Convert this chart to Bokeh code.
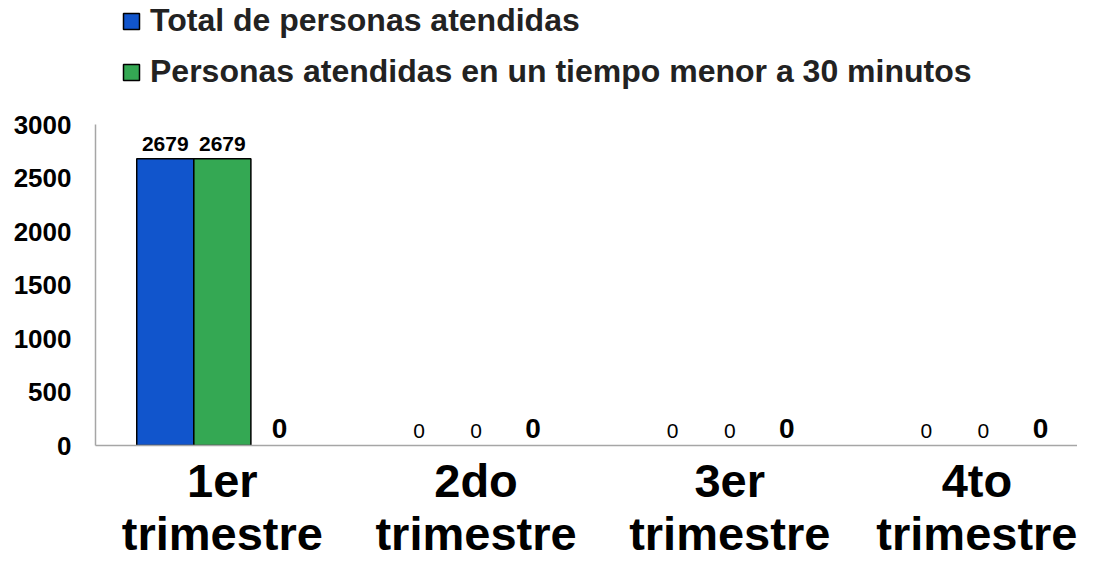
from bokeh.plotting import figure
from bokeh.models import ColumnDataSource, Range1d, FixedTicker, Legend, LegendItem
from bokeh.core.properties import value
from bokeh.embed import file_html
from bokeh.resources import INLINE

# ---- data ----
categories = ["1er trimestre", "2do trimestre", "3er trimestre", "4to trimestre"]
tick_labels = ["1er\ntrimestre", "2do\ntrimestre", "3er\ntrimestre", "4to\ntrimestre"]
total_atendidas = [2679, 0, 0, 0]
atendidas_menos_30 = [2679, 0, 0, 0]
tercera_serie = [0, 0, 0, 0]
series_names = ["Total de personas atendidas",
                "Personas atendidas en un tiempo menor a 30 minutos"]
y_ticks = [0, 500, 1000, 1500, 2000, 2500, 3000]
y_max = 3000

# ---- layout constants (pixels) ----
FONT = "Liberation Sans"
BLUE = "#1155CC"
GREEN = "#34A853"
AXIS = "#A6A6A6"
WIDTH, HEIGHT = 1077, 563
LEFT, BOTTOM = 95, 118
FRAME_H = HEIGHT - BOTTOM            # frame spans from canvas top to axis
AXIS_TOP_PX = 124                    # pixel row of y_max
CAT_PX = 253.7                       # pixels per category

y_top = y_max * FRAME_H / (FRAME_H - AXIS_TOP_PX)
x_end = (WIDTH - LEFT) / CAT_PX

idx = list(range(len(categories)))
centers = [i + 0.5 for i in idx]
W = 0.225
offsets = [-W, 0.0, W]

p = figure(width=WIDTH, height=HEIGHT, output_backend="svg", toolbar_location=None,
           x_range=Range1d(0, x_end), y_range=Range1d(0, y_top),
           min_border_left=LEFT, min_border_right=0, min_border_top=0,
           min_border_bottom=BOTTOM)
p.outline_line_color = None
p.xgrid.grid_line_color = None
p.ygrid.grid_line_color = None
p.background_fill_color = "white"

def bar_source(vals, off):
    return ColumnDataSource(dict(x=[c + off for c in centers], top=vals,
                                 la=[1.0 if v > 0 else 0.0 for v in vals]))

src1 = bar_source(total_atendidas, offsets[0])
src2 = bar_source(atendidas_menos_30, offsets[1])
r1 = p.vbar(x="x", top="top", width=W, bottom=0, source=src1,
            fill_color=BLUE, line_color="black", line_alpha="la", line_width=1.5)
r2 = p.vbar(x="x", top="top", width=W, bottom=0, source=src2,
            fill_color=GREEN, line_color="black", line_alpha="la", line_width=1.5)

# data labels
lx, ly, lt, lsz, lst, lyo = [], [], [], [], [], []
for vals, off in ((total_atendidas, offsets[0]), (atendidas_menos_30, offsets[1])):
    for c, v in zip(centers, vals):
        lx.append(c + off); ly.append(v); lt.append(str(v))
        lsz.append("21px"); lst.append("bold" if v > 0 else "normal"); lyo.append(-15)
for c, v in zip(centers, tercera_serie):
    lx.append(c + offsets[2]); ly.append(v); lt.append(str(v))
    lsz.append("28px"); lst.append("bold"); lyo.append(-17)
lsrc = ColumnDataSource(dict(x=lx, y=ly, text=lt, size=lsz, style=lst, yoff=lyo))
p.text(x="x", y="y", text="text", source=lsrc, text_font=value(FONT),
       text_font_size="size", text_font_style="style", text_align="center",
       text_baseline="alphabetic", y_offset="yoff", text_color="black")

# axes
p.xaxis.ticker = FixedTicker(ticks=centers)
p.xaxis.major_label_overrides = {c: t for c, t in zip(centers, tick_labels)}
p.xaxis.major_label_text_font = FONT
p.xaxis.major_label_text_font_size = "47px"
p.xaxis.major_label_text_font_style = "bold"
p.xaxis.major_label_text_color = "black"
p.xaxis.major_label_text_line_height = 1.0
p.xaxis.major_label_standoff = 8
p.xaxis.major_tick_line_color = None
p.xaxis.minor_tick_line_color = None
p.xaxis.major_tick_out = 0
p.xaxis.major_tick_in = 0
p.xaxis.axis_line_color = AXIS
p.xaxis.axis_line_width = 1.5

p.yaxis.ticker = FixedTicker(ticks=y_ticks)
p.yaxis.bounds = (0, y_max)
p.yaxis.major_label_text_font = FONT
p.yaxis.major_label_text_font_size = "26px"
p.yaxis.major_label_text_font_style = "bold"
p.yaxis.major_label_text_color = "black"
p.yaxis.major_label_standoff = 24
p.yaxis.major_tick_line_color = None
p.yaxis.minor_tick_line_color = None
p.yaxis.major_tick_out = 0
p.yaxis.major_tick_in = 0
p.yaxis.axis_line_color = AXIS
p.yaxis.axis_line_width = 1.5

ROW_H, ROW_GAP, LEG_TOP = 36, 14, 4
LEG_H = ROW_H * 2 + ROW_GAP
legend = Legend(items=[LegendItem(label=series_names[0], renderers=[r1]),
                       LegendItem(label=series_names[1], renderers=[r2])],
                location=(26, FRAME_H - LEG_H - LEG_TOP), orientation="vertical",
                label_text_font=FONT, label_text_font_size="32px",
                label_text_font_style="bold", label_text_color="#222222",
                glyph_width=20, glyph_height=20, label_standoff=9,
                spacing=ROW_GAP, padding=0, margin=0, label_height=ROW_H,
                border_line_color=None, background_fill_alpha=0)
p.add_layout(legend)

open("out.html", "w").write(file_html(p, INLINE))
